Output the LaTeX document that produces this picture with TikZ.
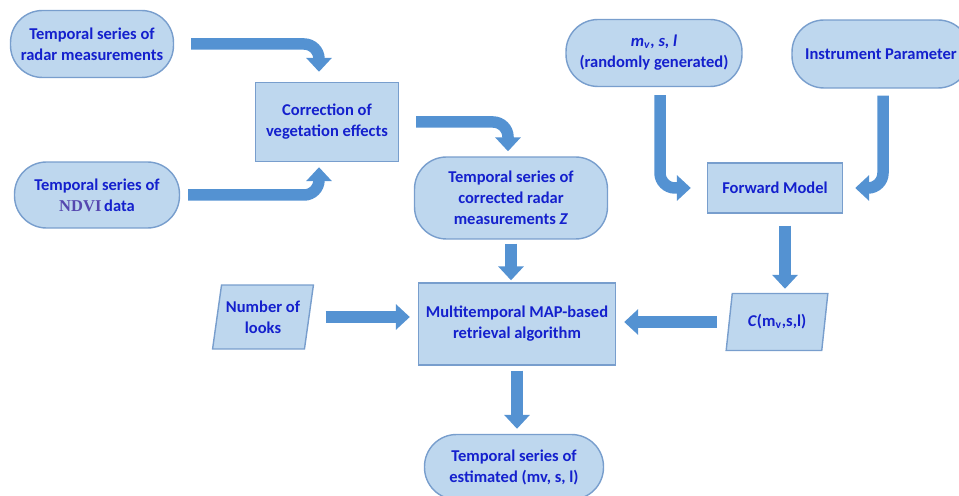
\documentclass[tikz,border=0pt]{standalone}
\usepackage{fontspec}
\setmainfont{Carlito}
\newfontfamily\ndvifont{Liberation Serif}
\usetikzlibrary{shapes.geometric,arrows.meta}
\definecolor{flowFill}{RGB}{190,215,238}
\definecolor{flowDraw}{RGB}{120,158,205}
\definecolor{flowArrow}{RGB}{84,146,210}
\definecolor{flowText}{RGB}{20,32,205}
\definecolor{ndviText}{RGB}{85,70,175}

\begin{document}
\begin{tikzpicture}[x=0.02cm, y=-0.02cm]
    \tikzstyle{roundbox} = [rectangle, draw=flowDraw, fill=flowFill, text=flowText, line width=0.8pt, rounded corners=0.64cm, align=center, inner sep=1pt, font=\fontsize{9.4}{12}\selectfont\bfseries]
    \tikzstyle{procbox} = [rectangle, draw=flowDraw, fill=flowFill, text=flowText, line width=0.8pt, align=center, inner sep=1pt, font=\fontsize{9.4}{12}\selectfont\bfseries]
    \tikzstyle{databox} = [trapezium, trapezium left angle=77, trapezium right angle=103, trapezium stretches=true, draw=flowDraw, fill=flowFill, text=flowText, line width=0.8pt, align=center, inner sep=1pt, font=\fontsize{9.4}{12}\selectfont\bfseries]
    \tikzstyle{blockarrow} = [-{Triangle[width=0.5cm, length=0.28cm]}, line width=0.23cm, draw=flowArrow, rounded corners=0.3cm]

    \useasboundingbox (0,0) rectangle (959,496);

    \node[roundbox, minimum width=3.26cm, minimum height=1.34cm] (radar) at (92, 44) {Temporal series of\\radar measurements};
    \node[roundbox, minimum width=3.3cm, minimum height=1.32cm] (ndvi) at (97, 195) {Temporal series of\\{\ndvifont\color{ndviText}NDVI}\,data};
    \node[procbox, minimum width=2.86cm, minimum height=1.58cm] (corr) at (327, 122) {Correction of\\vegetation effects};
    \node[roundbox, minimum width=3.86cm, minimum height=1.64cm] (zser) at (511, 198) {Temporal series of\\corrected radar\\measurements \textit{Z}};
    \node[roundbox, minimum width=3.52cm, minimum height=1.34cm] (mvs) at (654, 53) {\textit{m}\textsubscript{\textit{v}}\textit{, s, l}\\(randomly generated)};
    \node[roundbox, minimum width=3.56cm, minimum height=1.36cm] (inst) at (881, 54) {Instrument Parameter};
    \node[procbox, minimum width=2.7cm, minimum height=1.0cm] (fwd) at (775, 188) {Forward Model};
    \node[databox, minimum width=2.02cm, minimum height=1.28cm] (looks) at (263, 317) {Number of\\looks};
    \node[procbox, minimum width=3.94cm, minimum height=1.64cm] (map) at (517, 324) {Multitemporal MAP-based\\retrieval algorithm};
    \node[databox, minimum width=2.04cm, minimum height=1.14cm] (cmv) at (777, 322) {\textit{C}(m\textsubscript{v},s,l)};
    \node[roundbox, minimum width=3.58cm, minimum height=1.3cm] (est) at (514, 467) {Temporal series of\\estimated (mv, s, l)};

    \draw[blockarrow, shorten <=0.34cm, shorten >=0.2cm] (radar.east) -| ([xshift=-0.16cm]corr.north);
    \draw[blockarrow, shorten <=0.16cm, shorten >=0.1cm] (ndvi.east) -| ([xshift=-0.16cm]corr.south);
    \draw[blockarrow, shorten <=0.34cm, shorten >=0.1cm] (corr.east) -| ([xshift=-0.06cm]zser.north);
    \draw[blockarrow, shorten <=0.16cm, shorten >=0.32cm] ([xshift=0.12cm]mvs.south) |- (fwd.west);
    \draw[blockarrow, shorten <=0.14cm, shorten >=0.24cm] ([xshift=0.04cm]inst.south) |- (fwd.east);
    \draw[blockarrow, shorten <=0.24cm, shorten >=0.08cm] ([xshift=0.2cm]fwd.south) -- ([xshift=0.2cm]fwd.south |- cmv.north);
    \draw[blockarrow, shorten <=0.08cm, shorten >=0.04cm] (zser.south) -- (zser.south |- map.north);
    \draw[blockarrow, shorten <=0.32cm, shorten >=0.16cm] (looks.east) -- (looks.east -| map.west);
    \draw[blockarrow, shorten <=0.24cm, shorten >=0.16cm] (cmv.west) -- (cmv.west -| map.east);
    \draw[blockarrow, shorten <=0.1cm, shorten >=0.1cm] (map.south) -- (map.south |- est.north);
\end{tikzpicture}
\end{document}
